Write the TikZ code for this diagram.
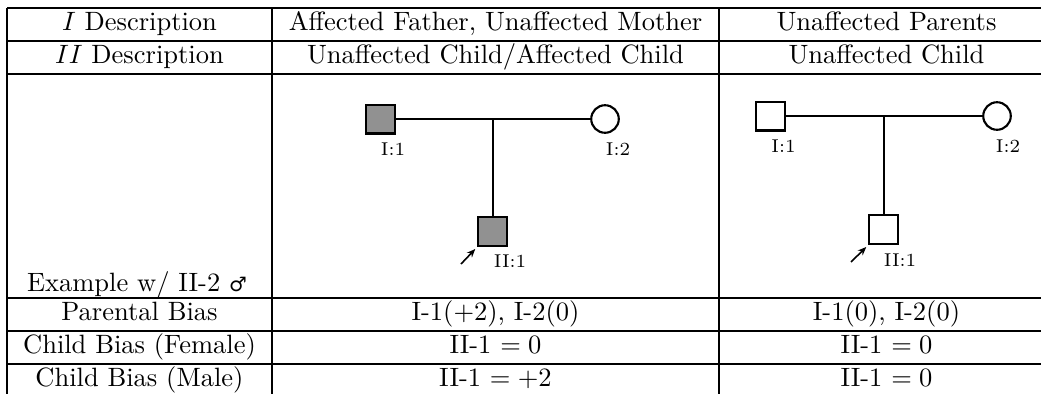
\documentclass[tikz,border=0pt]{standalone}
\usepackage{fontspec}
\newfontfamily\symfont{DejaVu Sans}
\usetikzlibrary{calc,arrows.meta}
\definecolor{affgray}{RGB}{145,145,145}
\begin{document}
\begin{tikzpicture}[x=0.3774pt,y=-0.3774pt,
  rule/.style={line width=0.45pt},
  cell/.style={anchor=base,inner sep=0pt,font=\fontsize{10}{12}\selectfont},
  pedline/.style={line width=0.6pt},
  malebox/.style={draw,line width=0.8pt,rectangle,minimum size=10.9pt,inner sep=0pt},
  femalecirc/.style={draw,line width=0.8pt,circle,minimum size=10.4pt,inner sep=0pt},
  affected/.style={fill=affgray},
  idlabel/.style={inner sep=0pt,font=\fontsize{7}{8}\selectfont},
  proband/.style={line width=0.6pt,-{Stealth[length=3.2pt,width=2.6pt]}}
]
\useasboundingbox (0,0) rectangle (1041,394);
% table rules
\draw[rule] (7,8) -- (1041,8);
\draw[rule] (7,41) -- (1041,41);
\draw[rule] (7,74) -- (1041,74);
\draw[rule] (7,298) -- (1041,298);
\draw[rule] (7,331) -- (1041,331);
\draw[rule] (7,364) -- (1041,364);
\draw[rule] (7,8) -- (7,394);
\draw[rule] (272,8) -- (272,394);
\draw[rule] (719,8) -- (719,394);
% column 1
\node[cell] (h1) at (139.5,30.5) {$I$ Description};
\node[cell] (h2) at (139.5,63.5) {$II$ Description};
\node[cell] (h3) at (137,291) {Example w/ II-2 {\symfont\fontsize{7.5}{8}\selectfont ♂}};
\node[cell] (h4) at (139.5,320) {Parental Bias};
\node[cell] (h5) at (139.5,353.5) {Child Bias (Female)};
\node[cell] (h6) at (139.5,386.5) {Child Bias (Male)};
% column 2
\node[cell] (a1) at (495.5,30.5) {Affected Father, Unaffected Mother};
\node[cell] (a2) at (495.5,63.5) {Unaffected Child/Affected Child};
\node[cell] (a4) at (495.5,320) {I-1($+2$), I-2(0)};
\node[cell] (a5) at (495.5,353.5) {II-1 $=0$};
\node[cell] (a6) at (495.5,386.5) {II-1 $=+2$};
% column 3
\node[cell] (b1) at (886.5,30.5) {Unaffected Parents};
\node[cell] (b2) at (886.5,63.5) {Unaffected Child};
\node[cell] (b4) at (886.5,320) {I-1(0), I-2(0)};
\node[cell] (b5) at (886.5,353.5) {II-1 $=0$};
\node[cell] (b6) at (886.5,386.5) {II-1 $=0$};
% pedigree 1
\node[malebox,affected] (pf1) at (380.5,119) {};
\node[femalecirc] (pm1) at (605,119) {};
\coordinate (pj1) at ($(pf1)!0.5!(pm1)$);
\node[malebox,affected] (pc1) at (492.75,231.5) {};
\draw[pedline] (pf1.east) -- (pm1.west);
\draw[pedline] (pj1) -- (pc1.north);
\node[idlabel] (lf1) at (393,149) {I:1};
\node[idlabel] (lm1) at (618,149) {I:2};
\node[idlabel] (lc1) at (510,261) {II:1};
\coordinate (ps1) at (461,264);
\draw[proband] (ps1) -- ([shift={(-2,2)}]pc1.south west);
% pedigree 2
\node[malebox] (pf2) at (770.5,116) {};
\node[femalecirc] (pm2) at (997,116) {};
\coordinate (pj2) at ($(pf2)!0.5!(pm2)$);
\node[malebox] (pc2) at (883.75,229.5) {};
\draw[pedline] (pf2.east) -- (pm2.west);
\draw[pedline] (pj2) -- (pc2.north);
\node[idlabel] (lf2) at (783.5,146) {I:1};
\node[idlabel] (lm2) at (1008,146) {I:2};
\node[idlabel] (lc2) at (900,260) {II:1};
\coordinate (ps2) at (851,262);
\draw[proband] (ps2) -- ([shift={(-2,2)}]pc2.south west);
\end{tikzpicture}
\end{document}
